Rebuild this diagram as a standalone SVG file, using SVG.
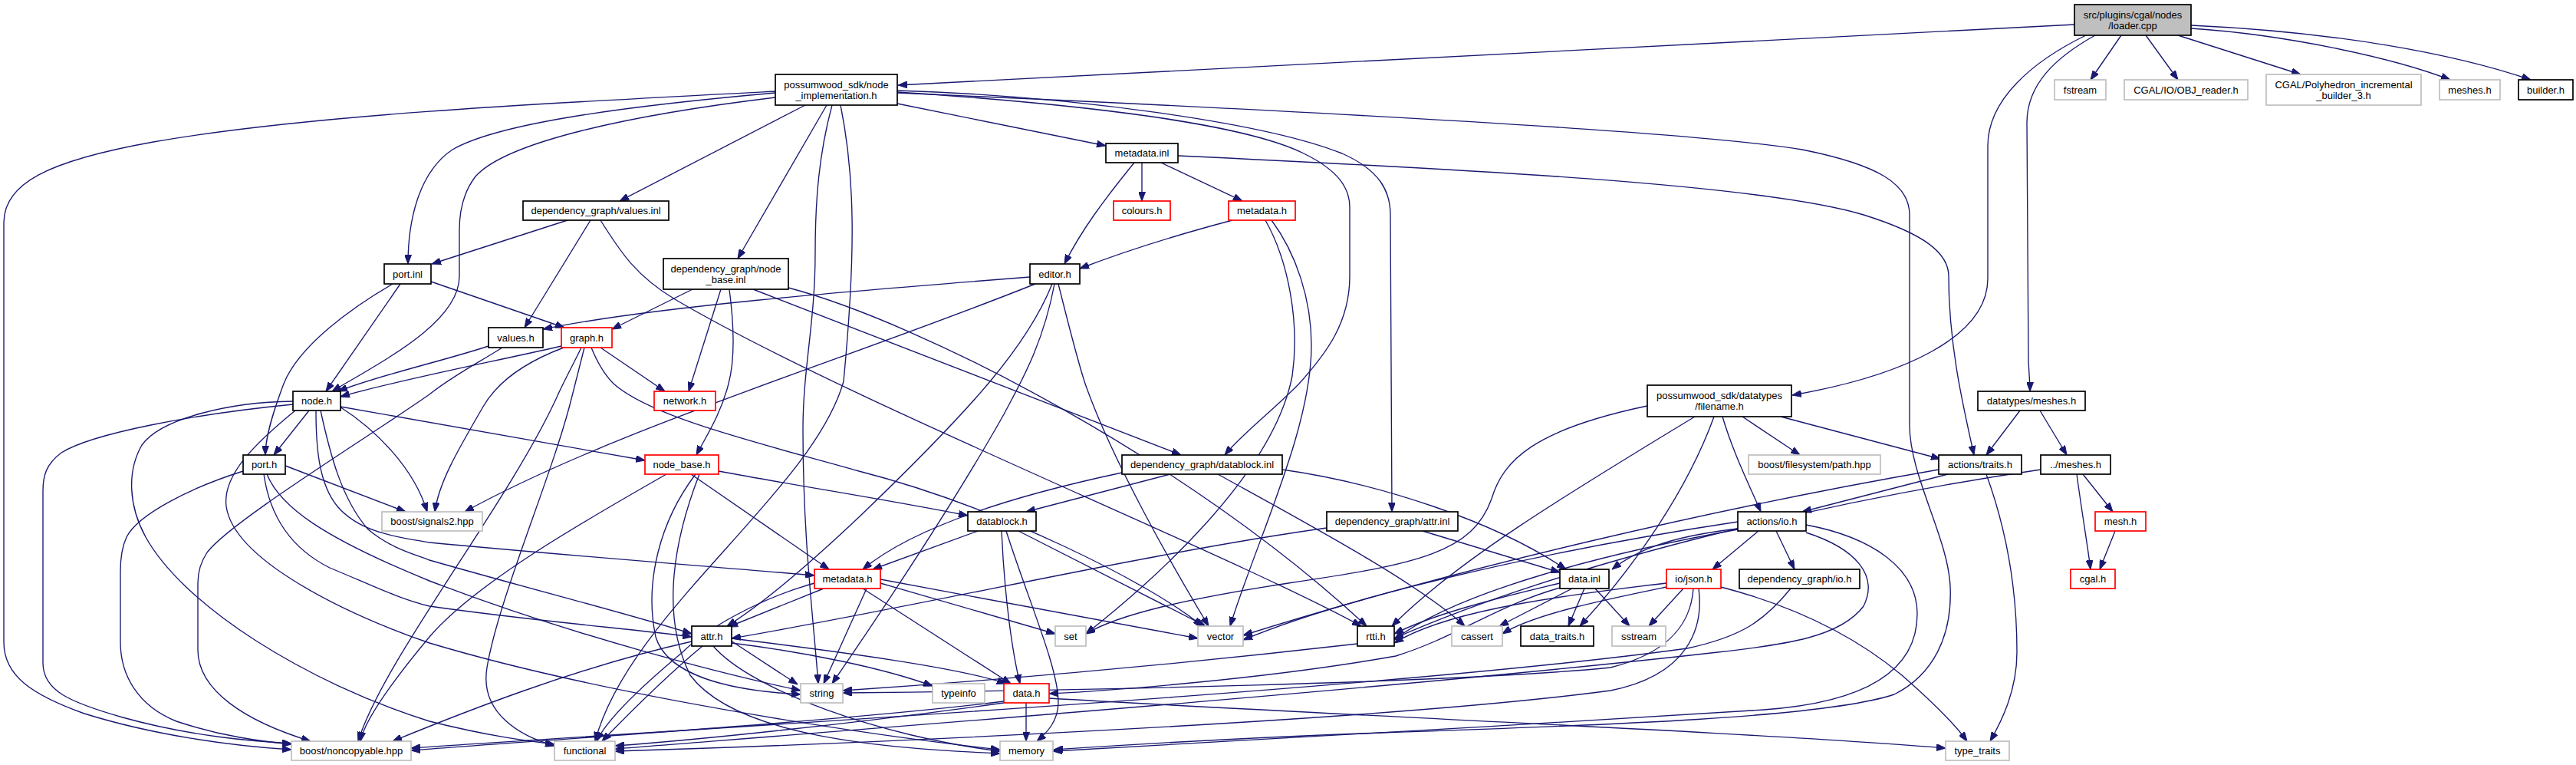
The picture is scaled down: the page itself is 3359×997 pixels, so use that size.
<svg xmlns="http://www.w3.org/2000/svg" width="3359" height="997" viewBox="0 0 3359 997">
<style>
.n rect{fill:#fff;stroke:#000;stroke-width:1.7}
.g rect{stroke:#bfbfbf}
.r rect{stroke:#ff0000}
.root rect{fill:#bfbfbf}
text{font-family:"Liberation Sans",Arial,Helvetica,sans-serif;font-size:13px;fill:#000;text-anchor:middle}
#edges path{fill:none;stroke:#191970;stroke-width:1.35;marker-end:url(#arr)}
</style>
<defs>
<marker id="arr" viewBox="0 0 12 9" refX="12" refY="4.5" markerWidth="12" markerHeight="9" markerUnits="userSpaceOnUse" orient="auto">
<path d="M0,0L12,4.5L0,9z" fill="#191970" stroke="#191970" stroke-width="1"/>
</marker>
</defs>
<rect width="3359" height="997" fill="#fff"/>
<g id="edges">
<path d="M2705,32 L1171,111"/>
<path d="M2766,46 L2726,104"/>
<path d="M2798,46 L2840,104"/>
<path d="M2840,46 L3000,97"/>
<path d="M2857,37 C2980,45 3120,75 3195,104"/>
<path d="M2857,33 C3050,42 3200,70 3300,104"/>
<path d="M2720,46 C2650,80 2592,130 2592,190 L2592,363 C2592,440 2480,490 2337,515"/>
<path d="M2732,46 C2680,75 2643,110 2643,160 L2645,470 C2646,490 2647,500 2647,510"/>
<path d="M1011,119 C700,135 400,150 200,185 C60,210 5,240 5,290 L5,837 C5,880 40,905 110,930 C200,958 300,972 380,977"/>
<path d="M1011,121 C820,138 650,160 590,195 C545,225 532,290 532,344"/>
<path d="M1011,127 C820,150 660,185 620,230 C603,252 599,280 599,300 L599,360 C599,420 500,470 433,510"/>
<path d="M1050,137 L808,262"/>
<path d="M1078,137 L962,337"/>
<path d="M1085,137 C1068,200 1063,260 1063,330 C1063,420 1047,480 1047,560 C1047,700 1060,800 1067,891"/>
<path d="M1096,137 C1115,230 1116,330 1100,497 C1060,640 820,800 776,966"/>
<path d="M1170,135 L1442,190"/>
<path d="M1170,120 C1400,135 1620,160 1700,200 C1745,222 1760,245 1760,270 L1760,360 C1760,420 1730,460 1694,500 C1660,535 1620,565 1597,593"/>
<path d="M1170,118 C1400,125 1650,160 1750,200 C1800,222 1813,250 1813,280 L1815,667"/>
<path d="M1170,121 C1600,140 2200,170 2350,195 C2450,215 2490,240 2490,280 L2490,554 C2490,620 2540,700 2543,764 C2546,830 2520,880 2470,905 C2380,935 2100,945 1800,955 C1600,962 1450,972 1374,977"/>
<path d="M740,287 L563,344"/>
<path d="M770,287 L684,427"/>
<path d="M783,287 C810,330 830,360 880,390 C1100,520 1600,720 1775,816"/>
<path d="M903,377 L798,429"/>
<path d="M940,377 L898,510"/>
<path d="M951,377 C958,430 958,470 950,500 C940,540 920,570 908,593"/>
<path d="M982,377 L1540,593"/>
<path d="M1028,375 C1200,420 1550,600 1782,816"/>
<path d="M522,370 L425,510"/>
<path d="M512,370 C460,400 390,450 370,500 C355,540 346,570 346,593"/>
<path d="M562,367 L736,427"/>
<path d="M637,451 C580,470 490,490 441,510"/>
<path d="M655,453 C620,475 590,490 560,514 C480,570 300,680 270,720 C262,732 258,745 258,760 L258,847 C258,900 320,940 405,966"/>
<path d="M732,451 C650,470 520,495 444,517"/>
<path d="M735,453 C690,470 650,495 630,530 C595,590 572,630 567,667"/>
<path d="M758,453 C745,480 735,497 725,520 C660,660 500,860 467,966"/>
<path d="M762,453 C755,480 750,500 745,520 C720,620 650,780 635,870 C625,930 680,960 723,972"/>
<path d="M771,453 C780,475 790,490 800,500 C850,545 1000,580 1120,614 C1300,660 1500,760 1568,816"/>
<path d="M783,453 L867,510"/>
<path d="M382,527 C250,540 120,565 80,590 C60,605 56,620 56,640 L56,864 C56,900 90,915 160,935 C250,960 330,966 380,969"/>
<path d="M382,523 C300,524 210,545 185,580 C165,615 168,660 190,700 C240,790 400,890 560,940 C640,960 690,966 723,970"/>
<path d="M385,535 C330,580 290,620 295,660 C305,730 450,800 560,838 C800,910 1150,960 1304,977"/>
<path d="M403,535 L357,593"/>
<path d="M412,535 C412,580 415,630 440,660 C470,695 520,700 560,707 C750,725 950,740 1062,750"/>
<path d="M418,535 C430,590 445,650 480,690 C510,715 540,722 560,730 C700,770 820,800 902,826"/>
<path d="M443,530 C490,560 540,610 557,667"/>
<path d="M444,530 L841,600"/>
<path d="M372,607 L529,667"/>
<path d="M317,614 C250,635 180,670 165,700 C158,715 157,730 157,745 L157,837 C157,880 180,920 230,940 C290,960 340,966 380,970"/>
<path d="M348,618 C365,660 420,700 560,757 C750,830 950,880 1044,900"/>
<path d="M344,618 C350,660 370,710 430,740 C490,765 520,780 560,790 C700,810 830,820 902,830"/>
<path d="M937,614 C1050,635 1150,650 1262,672"/>
<path d="M901,618 L1081,742"/>
<path d="M869,618 C760,680 620,760 560,830 C510,890 475,940 470,966"/>
<path d="M907,618 C860,680 840,760 855,830 C870,880 950,900 1044,905"/>
<path d="M912,618 C880,700 860,800 900,880 C960,960 1150,975 1304,982"/>
<path d="M1074,767 L950,817"/>
<path d="M1062,760 C990,780 920,820 890,850 C830,900 790,940 778,966"/>
<path d="M1130,767 L1074,891"/>
<path d="M1148,760 L1376,826"/>
<path d="M1148,755 L1562,832"/>
<path d="M1125,767 L1318,891"/>
<path d="M1526,618 L1338,667"/>
<path d="M1463,616 C1350,640 1200,680 1125,742"/>
<path d="M1672,612 C1800,630 1950,680 2042,742"/>
<path d="M1588,618 C1700,680 1850,760 1910,816"/>
<path d="M1275,692 L1138,742"/>
<path d="M1306,692 C1310,780 1320,850 1330,891"/>
<path d="M1312,692 C1340,780 1380,870 1380,915 C1380,940 1365,955 1352,966"/>
<path d="M1328,692 L1572,816"/>
<path d="M1730,688 C1500,720 1200,790 954,832"/>
<path d="M1855,692 L2034,746"/>
<path d="M1343,361 C1100,380 850,400 708,429"/>
<path d="M1350,370 C1100,470 800,560 606,667"/>
<path d="M1372,370 C1340,450 1270,530 1120,674 C1050,740 990,790 948,816"/>
<path d="M1375,370 C1360,450 1330,500 1309,540 C1230,680 1120,840 1085,891"/>
<path d="M1380,370 C1395,430 1405,470 1415,500 C1450,600 1530,740 1576,816"/>
<path d="M1479,212 C1440,260 1410,300 1388,344"/>
<path d="M1489,212 L1489,262"/>
<path d="M1514,212 L1620,262"/>
<path d="M1536,203 C1900,220 2300,240 2430,280 C2510,305 2541,330 2541,360 C2541,450 2560,530 2574,593"/>
<path d="M1607,287 C1520,310 1460,330 1408,350"/>
<path d="M1658,287 C1690,330 1710,390 1710,450 C1710,560 1640,700 1604,816"/>
<path d="M1650,287 C1680,340 1695,420 1685,490 C1660,620 1500,760 1416,826"/>
<path d="M2272,543 L2347,593"/>
<path d="M2322,543 L2530,598"/>
<path d="M2246,543 C2260,590 2280,630 2296,667"/>
<path d="M2148,529 C2000,560 1960,600 1945,650 C1920,720 1850,735 1680,760 C1550,780 1460,800 1416,826"/>
<path d="M2210,543 C2050,640 1900,730 1815,816"/>
<path d="M2235,543 C2200,640 2130,740 2060,816"/>
<path d="M2540,618 L2350,667"/>
<path d="M2590,618 C2620,700 2630,780 2630,850 C2630,900 2610,940 2595,966"/>
<path d="M2528,612 C2250,660 1900,740 1621,828"/>
<path d="M2316,692 L2340,742"/>
<path d="M2293,692 L2233,742"/>
<path d="M2266,690 C2100,720 1900,770 1818,834"/>
<path d="M2266,689 C2170,700 2130,720 2102,742"/>
<path d="M2355,684 C2440,700 2500,740 2500,800 C2500,870 2440,915 2300,925 C2000,945 1600,965 1373,979"/>
<path d="M2355,694 C2420,715 2450,750 2430,790 C2400,830 2330,840 2240,850 C1800,900 1000,960 802,976"/>
<path d="M2266,680 C2000,720 1750,780 1621,834"/>
<path d="M2195,767 L2150,816"/>
<path d="M2173,760 C2000,780 1880,800 1818,838"/>
<path d="M2173,765 C2100,780 2000,800 1959,826"/>
<path d="M2208,767 C2205,810 2180,850 2100,870 C1900,890 1400,900 1099,903"/>
<path d="M2215,767 C2222,820 2200,880 2100,900 C1800,940 1100,970 802,979"/>
<path d="M2244,765 C2340,790 2420,830 2480,880 C2520,915 2550,945 2565,966"/>
<path d="M2335,767 C2300,810 2270,830 2200,845 C1800,900 900,950 536,975"/>
<path d="M2034,760 C1950,780 1870,800 1818,826"/>
<path d="M2050,767 L1955,816"/>
<path d="M2066,767 L2045,816"/>
<path d="M2080,767 L2125,816"/>
<path d="M2034,766 C1950,790 1900,830 1820,855 C1650,885 1450,900 1368,904"/>
<path d="M1338,916 L1338,966"/>
<path d="M1309,914 C1100,940 700,965 536,978"/>
<path d="M1309,916 C1100,945 900,965 802,972"/>
<path d="M1368,910 C1700,930 2300,955 2537,975"/>
<path d="M1770,839 C1500,870 1250,890 1099,900"/>
<path d="M953,835 L1040,892"/>
<path d="M954,838 C1050,850 1150,870 1216,894"/>
<path d="M954,832 C1100,850 1250,870 1312,891"/>
<path d="M916,842 C870,880 820,930 785,966"/>
<path d="M902,836 C750,870 600,930 512,966"/>
<path d="M930,842 C980,900 1150,960 1304,979"/>
<path d="M2716,618 L2755,667"/>
<path d="M2708,618 C2715,670 2722,710 2726,742"/>
<path d="M2661,612 C2400,650 2050,730 1818,832"/>
<path d="M2634,535 L2590,593"/>
<path d="M2660,535 L2695,593"/>
<path d="M2758,692 L2738,742"/>
</g>
<g id="loader" class="n root"><rect x="2705" y="6" width="152" height="40"/><text x="2781" y="23.5">src/plugins/cgal/nodes</text><text x="2781" y="37.5">/loader.cpp</text></g>
<g id="node_implementation" class="n"><rect x="1011" y="97" width="159" height="40"/><text x="1090.5" y="114.5">possumwood_sdk/node</text><text x="1090.5" y="128.5">_implementation.h</text></g>
<g id="fstream" class="n g"><rect x="2679" y="104" width="67" height="26"/><text x="2712.5" y="121.6">fstream</text></g>
<g id="obj_reader" class="n g"><rect x="2770" y="104" width="161" height="26"/><text x="2850.5" y="121.6">CGAL/IO/OBJ_reader.h</text></g>
<g id="polyhedron_builder" class="n g"><rect x="2955" y="97" width="202" height="40"/><text x="3056" y="114.5">CGAL/Polyhedron_incremental</text><text x="3056" y="128.5">_builder_3.h</text></g>
<g id="meshes_h" class="n g"><rect x="3181" y="104" width="79" height="26"/><text x="3220.5" y="121.6">meshes.h</text></g>
<g id="builder_h" class="n"><rect x="3284" y="104" width="71" height="26"/><text x="3319.5" y="121.6">builder.h</text></g>
<g id="metadata_inl" class="n"><rect x="1442" y="187" width="94" height="25"/><text x="1489" y="204.1">metadata.inl</text></g>
<g id="values_inl" class="n"><rect x="682" y="262" width="190" height="25"/><text x="777" y="279.1">dependency_graph/values.inl</text></g>
<g id="colours_h" class="n r"><rect x="1452" y="262" width="74" height="25"/><text x="1489" y="279.1">colours.h</text></g>
<g id="metadata_h_top" class="n r"><rect x="1602" y="262" width="87" height="25"/><text x="1645.5" y="279.1">metadata.h</text></g>
<g id="port_inl" class="n"><rect x="501" y="344" width="61" height="26"/><text x="531.5" y="361.6">port.inl</text></g>
<g id="node_base_inl" class="n"><rect x="865" y="337" width="163" height="40"/><text x="946.5" y="354.5">dependency_graph/node</text><text x="946.5" y="368.5">_base.inl</text></g>
<g id="editor_h" class="n"><rect x="1343" y="344" width="65" height="26"/><text x="1375.5" y="361.6">editor.h</text></g>
<g id="values_h" class="n"><rect x="637" y="427" width="71" height="26"/><text x="672.5" y="444.6">values.h</text></g>
<g id="graph_h" class="n r"><rect x="732" y="427" width="66" height="26"/><text x="765" y="444.6">graph.h</text></g>
<g id="node_h" class="n"><rect x="382" y="510" width="62" height="25"/><text x="413" y="527.1">node.h</text></g>
<g id="network_h" class="n r"><rect x="853" y="510" width="80" height="25"/><text x="893" y="527.1">network.h</text></g>
<g id="filename_h" class="n"><rect x="2148" y="502" width="188" height="41"/><text x="2242" y="520">possumwood_sdk/datatypes</text><text x="2242" y="534">/filename.h</text></g>
<g id="datatypes_meshes_h" class="n"><rect x="2579" y="510" width="140" height="25"/><text x="2649" y="527.1">datatypes/meshes.h</text></g>
<g id="port_h" class="n"><rect x="317" y="593" width="55" height="25"/><text x="344.5" y="610.1">port.h</text></g>
<g id="node_base_h" class="n r"><rect x="841" y="593" width="96" height="25"/><text x="889" y="610.1">node_base.h</text></g>
<g id="datablock_inl" class="n"><rect x="1463" y="593" width="209" height="25"/><text x="1567.5" y="610.1">dependency_graph/datablock.inl</text></g>
<g id="path_hpp" class="n g"><rect x="2280" y="593" width="172" height="25"/><text x="2366" y="610.1">boost/filesystem/path.hpp</text></g>
<g id="traits_h" class="n"><rect x="2528" y="593" width="108" height="25"/><text x="2582" y="610.1">actions/traits.h</text></g>
<g id="rel_meshes_h" class="n"><rect x="2661" y="593" width="91" height="25"/><text x="2706.5" y="610.1">../meshes.h</text></g>
<g id="signals2_hpp" class="n g"><rect x="498" y="667" width="131" height="25"/><text x="563.5" y="684.1">boost/signals2.hpp</text></g>
<g id="datablock_h" class="n"><rect x="1262" y="667" width="89" height="25"/><text x="1306.5" y="684.1">datablock.h</text></g>
<g id="attr_inl" class="n"><rect x="1730" y="667" width="171" height="25"/><text x="1815.5" y="684.1">dependency_graph/attr.inl</text></g>
<g id="actions_io_h" class="n"><rect x="2266" y="667" width="89" height="25"/><text x="2310.5" y="684.1">actions/io.h</text></g>
<g id="mesh_h" class="n r"><rect x="2732" y="667" width="66" height="25"/><text x="2765" y="684.1">mesh.h</text></g>
<g id="metadata_h" class="n r"><rect x="1062" y="742" width="86" height="25"/><text x="1105" y="759.1">metadata.h</text></g>
<g id="data_inl" class="n"><rect x="2034" y="742" width="64" height="25"/><text x="2066" y="759.1">data.inl</text></g>
<g id="json_h" class="n r"><rect x="2173" y="742" width="71" height="25"/><text x="2208.5" y="759.1">io/json.h</text></g>
<g id="dg_io_h" class="n"><rect x="2268" y="742" width="157" height="25"/><text x="2346.5" y="759.1">dependency_graph/io.h</text></g>
<g id="cgal_h" class="n r"><rect x="2700" y="742" width="58" height="25"/><text x="2729" y="759.1">cgal.h</text></g>
<g id="attr_h" class="n"><rect x="902" y="816" width="52" height="26"/><text x="928" y="833.6">attr.h</text></g>
<g id="set" class="n g"><rect x="1376" y="816" width="40" height="26"/><text x="1396" y="833.6">set</text></g>
<g id="vector" class="n g"><rect x="1562" y="816" width="59" height="26"/><text x="1591.5" y="833.6">vector</text></g>
<g id="rtti_h" class="n"><rect x="1770" y="816" width="48" height="26"/><text x="1794" y="833.6">rtti.h</text></g>
<g id="cassert" class="n g"><rect x="1893" y="816" width="66" height="26"/><text x="1926" y="833.6">cassert</text></g>
<g id="data_traits_h" class="n"><rect x="1983" y="816" width="95" height="26"/><text x="2030.5" y="833.6">data_traits.h</text></g>
<g id="sstream" class="n g"><rect x="2102" y="816" width="70" height="26"/><text x="2137" y="833.6">sstream</text></g>
<g id="string" class="n g"><rect x="1044" y="891" width="55" height="25"/><text x="1071.5" y="908.1">string</text></g>
<g id="typeinfo" class="n g"><rect x="1216" y="891" width="68" height="25"/><text x="1250" y="908.1">typeinfo</text></g>
<g id="data_h" class="n r"><rect x="1309" y="891" width="59" height="25"/><text x="1338.5" y="908.1">data.h</text></g>
<g id="noncopyable_hpp" class="n g"><rect x="380" y="966" width="156" height="25"/><text x="458" y="983.1">boost/noncopyable.hpp</text></g>
<g id="functional" class="n g"><rect x="723" y="966" width="79" height="25"/><text x="762.5" y="983.1">functional</text></g>
<g id="memory" class="n g"><rect x="1304" y="966" width="69" height="25"/><text x="1338.5" y="983.1">memory</text></g>
<g id="type_traits" class="n g"><rect x="2537" y="966" width="83" height="25"/><text x="2578.5" y="983.1">type_traits</text></g>
</svg>
